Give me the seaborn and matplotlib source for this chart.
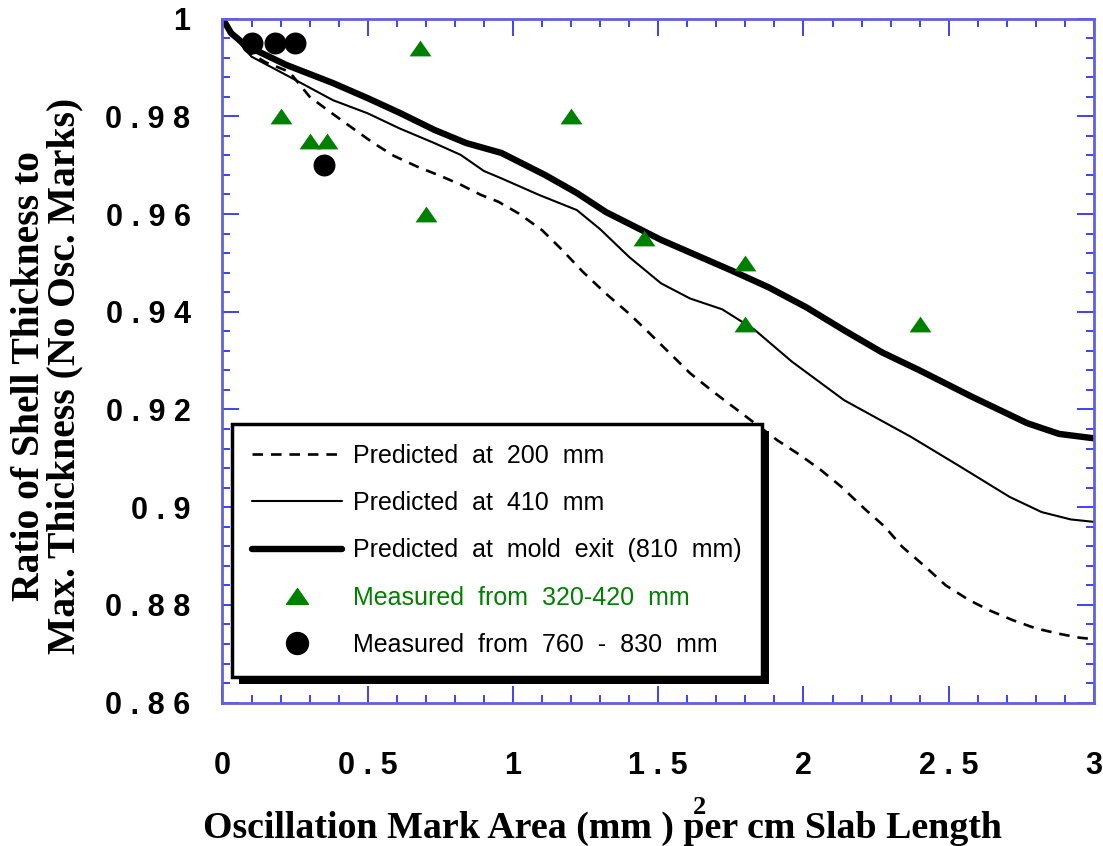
import matplotlib
matplotlib.use("Agg")
import matplotlib.pyplot as plt
import seaborn as sns
import numpy as np
from matplotlib.lines import Line2D
from matplotlib.markers import MarkerStyle
from matplotlib.patches import Rectangle
from matplotlib.ticker import MultipleLocator, FixedLocator, FixedFormatter
from matplotlib.transforms import IdentityTransform

# ---------------- data ----------------
x_200 = [0, 0.03, 0.08, 0.15, 0.23, 0.30, 0.37, 0.44, 0.52, 0.59, 0.67, 0.75, 0.82,
         0.89, 0.95, 1.02, 1.10, 1.17, 1.24, 1.32, 1.40, 1.47, 1.54, 1.61, 1.69,
         1.75, 1.91, 1.99, 2.06, 2.13, 2.21, 2.28, 2.34, 2.42, 2.49, 2.57, 2.64,
         2.72, 2.80, 2.88, 2.95, 3.0]
y_200 = [1.0, 0.997, 0.9935, 0.991, 0.9891, 0.984, 0.9809, 0.9779, 0.9745, 0.9719,
         0.9697, 0.9678, 0.966, 0.9639, 0.9625, 0.9601, 0.9567, 0.9526, 0.9482,
         0.9437, 0.9396, 0.9356, 0.9315, 0.9274, 0.9236, 0.9209, 0.9137, 0.9106,
         0.9076, 0.9042, 0.8997, 0.896, 0.8919, 0.8878, 0.884, 0.881, 0.8789,
         0.8769, 0.8752, 0.8741, 0.8733, 0.873]

x_410 = [0, 0.03, 0.08, 0.1, 0.23, 0.38, 0.5, 0.61, 0.73, 0.82, 0.9, 0.96, 1.09,
         1.22, 1.3, 1.4, 1.51, 1.61, 1.72, 1.83, 1.96, 2.14, 2.37, 2.54, 2.71,
         2.82, 2.92, 3.0]
y_410 = [1.0, 0.997, 0.9935, 0.9922, 0.9881, 0.9833, 0.9806, 0.9775, 0.9745,
         0.9721, 0.9688, 0.9673, 0.9639, 0.9608, 0.9569, 0.9512, 0.9458, 0.9427,
         0.9405, 0.9364, 0.9298, 0.9219, 0.9144, 0.9083, 0.9021, 0.8990, 0.8975,
         0.8970]

x_exit = [0, 0.03, 0.08, 0.22, 0.38, 0.5, 0.61, 0.73, 0.84, 0.96, 1.11, 1.22,
          1.32, 1.51, 1.75, 1.88, 2.01, 2.14, 2.27, 2.40, 2.58, 2.77, 2.88, 3.0]
y_exit = [1.0, 0.997, 0.9945, 0.9905, 0.9868, 0.9837, 0.9807, 0.9772, 0.9745,
          0.9725, 0.968, 0.9643, 0.9604, 0.9547, 0.9485, 0.945, 0.9409, 0.9362,
          0.9317, 0.928, 0.9226, 0.9172, 0.9150, 0.9141]

tri_x = [0.20, 0.30, 0.36, 0.68, 0.70, 1.20, 1.45, 1.80, 1.80, 2.40]
tri_y = [0.980, 0.975, 0.975, 0.994, 0.960, 0.980, 0.955, 0.950, 0.9375, 0.9375]

circ_x = [0.10, 0.18, 0.25, 0.35]
circ_y = [0.995, 0.995, 0.995, 0.970]

legend_labels = ["Predicted  at  200  mm",
                 "Predicted  at  410  mm",
                 "Predicted  at  mold  exit  (810  mm)",
                 "Measured  from  320-420  mm",
                 "Measured  from  760  -  830  mm"]

x_ticks = [0, 0.5, 1, 1.5, 2, 2.5, 3]
x_tick_labels = ["0", "0 . 5", "1", "1 . 5", "2", "2 . 5", "3"]
y_ticks = [0.86, 0.88, 0.90, 0.92, 0.94, 0.96, 0.98, 1.0]
y_tick_labels = ["0 . 8 6", "0 . 8 8", "0 . 9", "0 . 9 2", "0 . 9 4", "0 . 9 6",
                 "0 . 9 8", "1"]

x_label = "Oscillation Mark Area (mm ) per cm Slab Length"
x_label_sup = "2"
y_label = "Ratio of Shell Thickness to\nMax. Thickness (No Osc. Marks)"

# ---------------- style ----------------
sns.set_theme(style="white")
plt.rcParams["font.family"] = ["Liberation Sans", "DejaVu Sans"]
plt.rcParams["text.color"] = "black"
plt.rcParams["axes.labelcolor"] = "black"
plt.rcParams["xtick.color"] = "black"
plt.rcParams["ytick.color"] = "black"

GREEN = "#008000"
SPINE = "#6060e0"
TICK = "#2020f0"

fig = plt.figure(figsize=(11.03, 8.46), dpi=100)
ax = fig.add_axes([0.2017, 0.1694, 0.7901, 0.8087])

sns.lineplot(x=x_200, y=y_200, ax=ax, color="black", lw=1.9,
             linestyle=(0, (4, 3)), estimator=None, sort=False, legend=False)
sns.lineplot(x=x_410, y=y_410, ax=ax, color="black", lw=1.5,
             estimator=None, sort=False, legend=False)
sns.lineplot(x=x_exit, y=y_exit, ax=ax, color="black", lw=4.6,
             estimator=None, sort=False, legend=False)

tri_marker = MarkerStyle([(-1, -0.72), (1, -0.72), (0, 0.72), (-1, -0.72)])
sns.scatterplot(x=tri_x, y=tri_y, ax=ax, marker=tri_marker, s=250,
                color=GREEN, edgecolor=GREEN, linewidth=0, zorder=3, legend=False)
sns.scatterplot(x=circ_x, y=circ_y, ax=ax, marker="o", s=250,
                color="black", edgecolor="black", linewidth=0, zorder=3, legend=False)

ax.set_xlim(0, 3)
ax.set_ylim(0.86, 1.0)

ax.xaxis.set_major_locator(FixedLocator(x_ticks))
ax.xaxis.set_major_formatter(FixedFormatter(x_tick_labels))
ax.yaxis.set_major_locator(FixedLocator(y_ticks))
ax.yaxis.set_major_formatter(FixedFormatter(y_tick_labels))
ax.xaxis.set_minor_locator(MultipleLocator(0.1))
ax.yaxis.set_minor_locator(MultipleLocator(0.004))

ax.tick_params(which="both", direction="in", top=True, right=True,
               bottom=True, left=True, color=TICK, width=1.2)
ax.tick_params(which="major", length=12)
ax.tick_params(which="minor", length=6)
ax.tick_params(axis="x", which="major", pad=35, labelsize=22, labelcolor="black")
ax.tick_params(axis="y", which="major", pad=23, labelsize=22, labelcolor="black")
for lab in ax.get_xticklabels() + ax.get_yticklabels():
    lab.set_fontweight("bold")

for sp in ax.spines.values():
    sp.set_color(SPINE)
    sp.set_linewidth(2)
    sp.set_visible(True)

serif = ["Liberation Serif", "DejaVu Serif"]
ax.set_xlabel(x_label, fontsize=27.3, fontweight="bold", family=serif,
              color="black")
ax.xaxis.label.set_va("baseline")
ax.xaxis.set_label_coords(0.4366, -0.197)
fig.text(700 / 1103, 1 - 807 / 846, x_label_sup, fontsize=19, fontweight="bold",
         family=serif, ha="center", va="center", color="black")

ax.set_ylabel(y_label, fontsize=28.5, fontweight="bold", family=serif,
              linespacing=0.95, color="black")
ax.yaxis.label.set_va("center")
ax.yaxis.set_label_coords(-0.2014, 0.478)

# ---------------- legend ----------------
handles = [
    Line2D([], [], color="black", lw=1.9, linestyle=(0, (4, 3))),
    Line2D([], [], color="black", lw=1.5),
    Line2D([], [], color="black", lw=4.6),
    Line2D([], [], color=GREEN, marker=tri_marker, markersize=15.8, linestyle="none"),
    Line2D([], [], color="black", marker="o", markersize=15.8, linestyle="none"),
]
leg = ax.legend(handles, legend_labels, loc="upper left",
                bbox_to_anchor=(0.011, 0.4076), borderaxespad=0,
                fontsize=18, frameon=True, fancybox=False, framealpha=1,
                edgecolor="black", handlelength=3.6, handletextpad=0.45,
                labelspacing=0.93, borderpad=0.8)
leg.get_frame().set_linewidth(2.5)
for t in leg.get_texts():
    t.set_color("black")
leg.get_texts()[3].set_color(GREEN)
leg.set_zorder(10)

fig.canvas.draw()
bb = leg.get_frame().get_window_extent(fig.canvas.get_renderer())
shadow = Rectangle((bb.x0 + 7, bb.y0 - 7), bb.width, bb.height,
                   transform=IdentityTransform(), facecolor="black",
                   edgecolor="none", zorder=9.9, clip_on=False)
ax.add_patch(shadow)

fig.savefig("out.png", dpi=100, facecolor="white")
